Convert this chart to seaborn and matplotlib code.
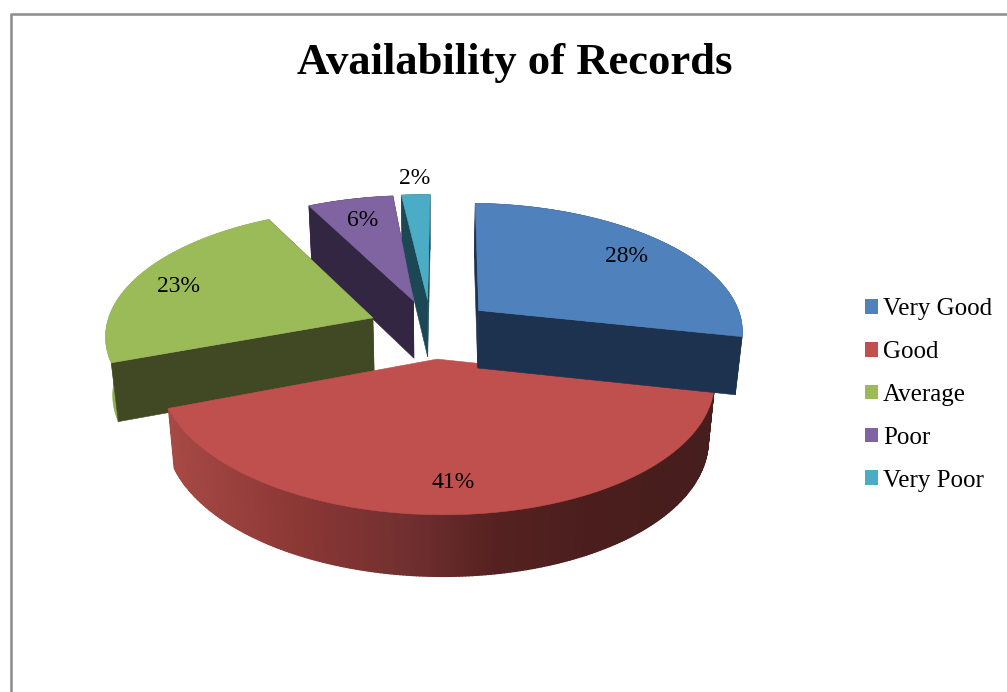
import numpy as np
import matplotlib
matplotlib.use("Agg")
import matplotlib.pyplot as plt
from matplotlib.patches import Patch
from matplotlib.lines import Line2D
import seaborn as sns

# ---- data ----
title = "Availability of Records"
categories = ["Very Good", "Good", "Average", "Poor", "Very Poor"]
values = [28, 41, 23, 6, 2]

# ---- style ----
top_colors = ["#4F81BD", "#C0504D", "#9BBB59", "#8064A2", "#4BACC6"]
face_colors = ["#1D324E", "#4A1F1E", "#404924", "#332642", "#1B4854"]
outer_colors = ["#1D324E", "#4A1F1E", "#8FAD52", "#332642", "#1B4854"]
label_xy = [(626, 256), (453, 483), (179, 287), (363, 221), (415, 179)]
slice_skew = [2, 0, 4, 6, 2]
draw_order = [4, 3, 2, 1, 0]
palette = sns.color_palette(top_colors)

sns.set_theme(style="white")
plt.rcParams["font.family"] = ["Liberation Serif", "DejaVu Serif"]

fig = plt.figure(figsize=(10.07, 6.92), dpi=100)
ax = fig.add_axes([0, 0, 1, 1])
ax.set_xlim(0, 1007)
ax.set_ylim(692, 0)
ax.axis("off")

# ---- projection of the unit pie disc to the canvas ----
X0, Y0, A, B, K, TILT, DEPTH, EXPLODE = 431, 328.5, 266, 126, 0.133, 3, 58, 0.236


def project(x, y, z=0.0, skew=0.0):
    x, y = np.asarray(x, float), np.asarray(y, float)
    w = 1 + K * y
    px = X0 + (A * x / w + skew * y) * (1 - 0.022 * z)
    py = Y0 - B * y / w + TILT * x + z * DEPTH * (1 - 0.05 * y)
    return px, py


def poly(xy, **kw):
    ax.fill(xy[0], xy[1], **kw)


fractions = np.array(values) / sum(values)
ends = np.cumsum(fractions) * 2 * np.pi
starts = ends - fractions * 2 * np.pi
stops_x = [165, 290, 400, 500, 600, 710]
stops_rgb = np.array([[168, 74, 70], [140, 56, 53], [115, 48, 48],
                      [84, 33, 32], [74, 30, 29], [70, 30, 29]]) / 255

for zi, i in enumerate(draw_order):
    mid = (starts[i] + ends[i]) / 2
    ox, oy = EXPLODE * np.sin(mid), EXPLODE * np.cos(mid)
    th = np.linspace(starts[i], ends[i], max(12, int(values[i] * 6)))
    ax_, ay_ = ox + np.sin(th), oy + np.cos(th)
    col = face_colors[i]
    sk = slice_skew[i]
    zorder = 2 + zi
    # outer rim
    if i == 1:
        for j in range(len(th) - 1):
            xs = ax_[j:j + 2]
            ys = ay_[j:j + 2]
            t = project(xs, ys, 0, sk)
            b = project(xs[::-1], ys[::-1], 1.0, sk)
            xm = float(np.mean(t[0]))
            c = [np.interp(xm, stops_x, stops_rgb[:, k]) for k in range(3)]
            poly((np.r_[t[0], b[0]], np.r_[t[1], b[1]]), color=c, lw=1.0, zorder=zorder)
    else:
        t = project(ax_, ay_, 0, sk)
        b = project(ax_[::-1], ay_[::-1], 1.0, sk)
        poly((np.r_[t[0], b[0]], np.r_[t[1], b[1]]), color=outer_colors[i], lw=0.4, zorder=zorder)
    # radial cut faces
    if i != 1:
        for k in (0, -1):
            ex, ey = [ox, ax_[k]], [oy, ay_[k]]
            t = project(ex, ey, 0, sk)
            b = project(ex[::-1], ey[::-1], 1.0, sk)
            poly((np.r_[t[0], b[0]], np.r_[t[1], b[1]]), color=col, lw=0.4, zorder=zorder + 0.1)
    # top surface
    t = project(np.r_[ox, ax_], np.r_[oy, ay_], 0, sk)
    poly(t, color=palette[i], lw=0.4, zorder=zorder + 0.2)

for v, (lx, ly) in zip(values, label_xy):
    ax.text(lx, ly, f"{v}%", ha="center", va="center", fontsize=17, color="black", zorder=20)

ax.text(515, 63, title, ha="center", va="center", fontsize=32.1, fontweight="bold", color="black")

# ---- chart frame (cropped at the right and bottom) ----
for xs, ys in [([10.5, 10.5], [14, 692]), ([9.6, 1007], [14, 14])]:
    ax.add_line(Line2D(xs, ys, color="#8C8C8C", lw=1.8, solid_capstyle="butt"))

handles = [Patch(facecolor=c, edgecolor="none") for c in palette]
ax.legend(handles, categories, loc="center left", bbox_to_anchor=(865 / 1007, 1 - 395 / 692),
          frameon=False, fontsize=18, handlelength=0.52, handleheight=0.52, handletextpad=0.2,
          labelspacing=0.83, borderpad=0, borderaxespad=0, labelcolor="black")

fig.savefig("out.png", dpi=100)
